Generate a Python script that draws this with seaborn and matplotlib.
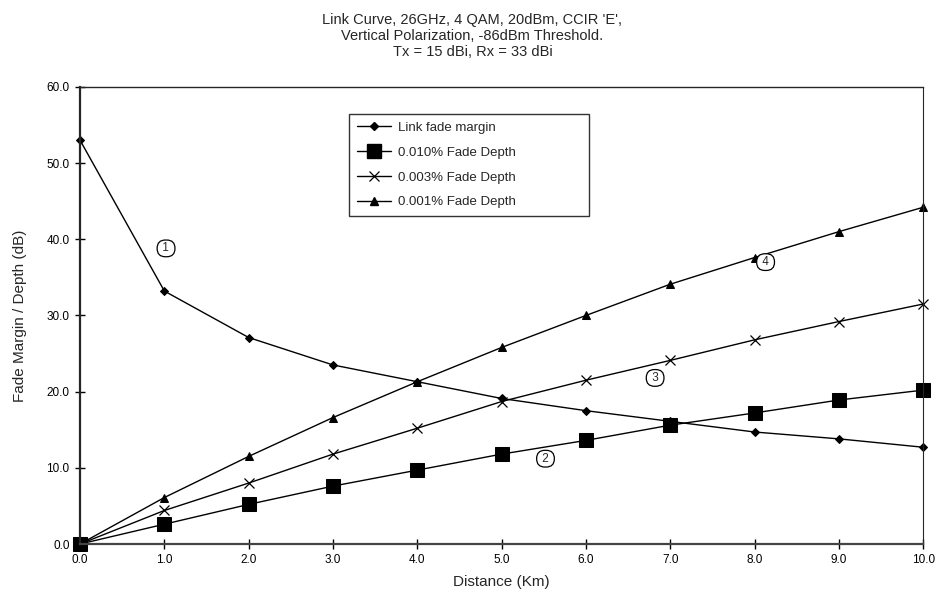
import pandas as pd
import matplotlib.pyplot as plt
import seaborn as sns
from matplotlib.lines import Line2D

# Distance (km) and curve values
distance = [0.0, 1.0, 2.0, 3.0, 4.0, 5.0, 6.0, 7.0, 8.0, 9.0, 10.0]
link_margin = [53.0, 33.2, 27.1, 23.5, 21.3, 19.1, 17.5, 16.1, 14.7, 13.8, 12.7]
fade_010 = [0.0, 2.6, 5.2, 7.6, 9.7, 11.8, 13.6, 15.6, 17.2, 18.9, 20.2]
fade_003 = [0.0, 4.4, 8.0, 11.8, 15.2, 18.7, 21.5, 24.1, 26.8, 29.2, 31.5]
fade_001 = [0.0, 6.1, 11.5, 16.6, 21.3, 25.8, 30.0, 34.1, 37.6, 41.0, 44.2]

series_names = ["Link fade margin", "0.010% Fade Depth",
                "0.003% Fade Depth", "0.001% Fade Depth"]
series_values = [link_margin, fade_010, fade_003, fade_001]

x_ticks = [0.0, 1.0, 2.0, 3.0, 4.0, 5.0, 6.0, 7.0, 8.0, 9.0, 10.0]
y_ticks = [0.0, 10.0, 20.0, 30.0, 40.0, 50.0, 60.0]

# curve number tags: (label, x, y)
tags = [("1", 1.02, 38.8), ("2", 5.52, 11.2), ("3", 6.82, 21.8), ("4", 8.13, 37.0)]


def main() -> None:
    df = pd.DataFrame({
        "distance": distance * len(series_names),
        "value": sum(series_values, []),
        "series": [n for n in series_names for _ in distance],
    })

    sns.set_style("ticks")
    plt.rcParams["font.family"] = ["Liberation Sans", "DejaVu Sans"]

    fig = plt.figure(figsize=(9.45, 5.95), dpi=100)
    ax = fig.add_axes([0.0847, 0.0857, 0.8923, 0.7683])

    styles = {
        "Link fade margin": dict(marker="D", markersize=4.5),
        "0.010% Fade Depth": dict(marker="s", markersize=10.5),
        "0.003% Fade Depth": dict(marker="x", markersize=7, markeredgewidth=0.9),
        "0.001% Fade Depth": dict(marker="^", markersize=6),
    }

    for name in series_names:
        sns.lineplot(
            data=df[df["series"] == name], x="distance", y="value",
            color="black", linewidth=1.0, ax=ax, legend=False,
            markeredgecolor="black", markerfacecolor="black", **styles[name],
        )

    ax.set_xlim(0, 10)
    ax.set_ylim(0, 60)
    ax.set_xticks(x_ticks)
    ax.set_yticks(y_ticks)
    ax.set_xticklabels([f"{t:.1f}" for t in x_ticks], fontsize=8.5)
    ax.set_yticklabels([f"{t:.1f}" for t in y_ticks], fontsize=8.5)
    ax.tick_params(direction="inout", length=7, width=1.0, colors="black", pad=4)
    for m in ax.get_lines():
        m.set_clip_on(False)

    ax.spines["left"].set_linewidth(1.6)
    ax.spines["bottom"].set_linewidth(1.6)
    ax.spines["bottom"].set_color("#444444")
    ax.spines["top"].set_visible(True)
    ax.spines["right"].set_visible(True)
    ax.spines["top"].set_linewidth(1.0)
    ax.spines["right"].set_linewidth(0.8)
    ax.spines["right"].set_linestyle((0, (1, 1)))

    ax.set_xlabel("Distance (Km)", fontsize=11, labelpad=6)
    ax.set_ylabel("Fade Margin / Depth (dB)", fontsize=11, labelpad=14)

    fig.suptitle(
        "Link Curve, 26GHz, 4 QAM, 20dBm, CCIR 'E',\n"
        "Vertical Polarization, -86dBm Threshold.\n"
        "Tx = 15 dBi, Rx = 33 dBi",
        x=0.5, y=0.978, fontsize=10.5, linespacing=1.2,
    )

    handles = [
        Line2D([], [], color="black", linewidth=1.0, markeredgecolor="black",
               markerfacecolor="black", **styles[n])
        for n in series_names
    ]
    leg = ax.legend(
        handles, series_names, loc="upper left",
        bbox_to_anchor=(0.319, 0.683, 0.284, 0.258), mode="expand",
        frameon=True, fancybox=False, edgecolor="black", fontsize=9.5,
        handlelength=2.6, handletextpad=0.5, labelspacing=0.95,
        borderpad=0.6, borderaxespad=0,
    )
    leg.get_frame().set_linewidth(1.0)

    for label, tx, ty in tags:
        ax.text(tx, ty, f" {label} ", fontsize=8.5, ha="center", va="center",
                bbox=dict(boxstyle="round,pad=0.2,rounding_size=0.7",
                          fc="white", ec="black", lw=0.9))

    fig.savefig("out.png", dpi=100)
    plt.close(fig)


if __name__ == "__main__":
    main()
